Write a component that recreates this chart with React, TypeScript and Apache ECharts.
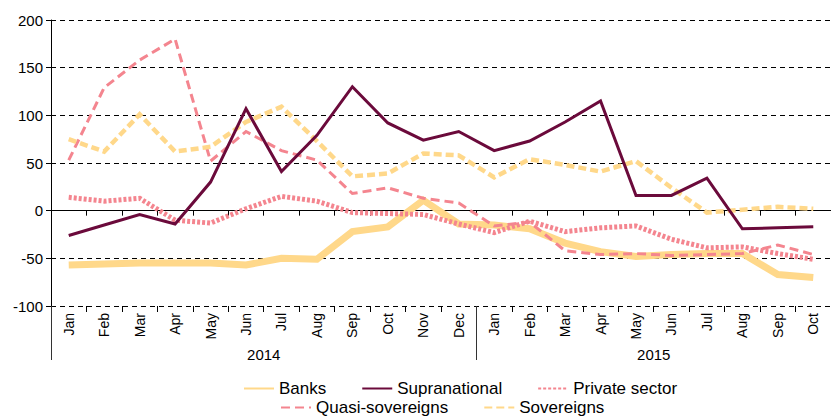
import React, { useEffect, useRef } from "react";
import * as echarts from "echarts";

const months = ["Jan","Feb","Mar","Apr","May","Jun","Jul","Aug","Sep","Oct","Nov","Dec","Jan","Feb","Mar","Apr","May","Jun","Jul","Aug","Sep","Oct"];
const years = ["2014", "2015"];
const yTicks = { min: -100, max: 200, interval: 50 };

const banks = [-57,-56,-55,-55,-55,-57,-50,-51,-22,-17,11,-14,-15,-19,-34,-43,-48,-46,-45,-45,-67,-70];
const supranational = [-26,-15,-4,-14,30,107,41,79,130,92,74,83,63,73,93,115,16,16,34,-19,-18,-17];
const privateSector = [14,10,13,-10,-13,2,15,10,-2,-3,-4,-14,-23,-11,-22,-18,-16,-30,-39,-38,-45,-51];
const quasiSovereigns = [53,129,158,180,52,83,63,53,18,24,13,8,-16,-12,-42,-46,-45,-47,-46,-45,-36,-46];
const sovereigns = [75,62,101,62,67,93,109,73,36,39,60,58,35,54,48,41,52,24,-2,1,4,2];

const FONT = "Liberation Sans, Arial, sans-serif";
const ORANGE = "#FFD88A";
const MAROON = "#6B0A3B";
const PINK = "#F4858F";

export default function App() {
  const ref = useRef<HTMLDivElement>(null);
  useEffect(() => {
    document.body.style.margin = "0";
    const chart = echarts.init(ref.current!, null, { renderer: "svg" });
    const mk = (name: string, data: number[], color: string, width: number, type: any, z: number) => ({
      name,
      type: "line",
      data,
      symbol: "none",
      z,
      lineStyle: { color, width, type, cap: "butt", join: "miter" },
      itemStyle: { color },
      xAxisIndex: 0,
      yAxisIndex: 0,
    });
    const legendBase = {
      itemWidth: 30,
      itemHeight: 8,
      itemGap: 35,
      padding: 0,
      itemStyle: { opacity: 0 },
      textStyle: { fontSize: 17, color: "#000", fontFamily: FONT },
    };
    chart.setOption({
      animation: false,
      textStyle: { fontFamily: FONT },
      grid: { left: 51, top: 20, width: 783, height: 286 },
      legend: [
        { ...legendBase, data: ["Banks", "Supranational", "Private sector"], left: 243, top: 380 },
        { ...legendBase, data: ["Quasi-sovereigns", "Sovereigns"], left: 280, top: 399 },
      ],
      xAxis: [
        {
          type: "category",
          data: months,
          position: "bottom",
          boundaryGap: true,
          axisLine: { show: false, onZero: false },
          axisTick: { show: true, length: 6, lineStyle: { color: "#000" } },
          axisLabel: { rotate: 90, fontSize: 14, color: "#000", margin: 7, fontFamily: FONT, interval: 0 },
          splitLine: { show: false },
        },
        {
          type: "category",
          data: months,
          position: "top",
          boundaryGap: true,
          axisLine: { show: true, onZero: true, onZeroAxisIndex: 0, lineStyle: { color: "#000", width: 1 } },
          axisTick: { show: true, inside: true, length: 5, lineStyle: { color: "#000" } },
          axisLabel: { show: false },
          splitLine: { show: false },
        },
        {
          type: "value",
          min: 0,
          max: months.length,
          interval: 1,
          position: "bottom",
          axisLine: { show: false, onZero: false },
          axisTick: { show: true, length: 54, customValues: [0, 12, months.length], lineStyle: { color: "#333" } },
          axisLabel: {
            show: true,
            customValues: [6, 17],
            formatter: (v: number) => (v < 12 ? years[0] : years[1]),
            fontSize: 15,
            color: "#000",
            margin: 41,
            fontFamily: FONT,
          },
          splitLine: { show: false },
        },
      ],
      yAxis: {
        type: "value",
        min: yTicks.min,
        max: yTicks.max,
        interval: yTicks.interval,
        axisLine: { show: true, onZero: false, lineStyle: { color: "#000" } },
        axisTick: { show: true, length: 5, lineStyle: { color: "#000" } },
        axisLabel: { fontSize: 15, color: "#000", margin: 8, fontFamily: FONT },
        splitLine: { show: true, lineStyle: { color: "#000", type: [5, 4], width: 1 } },
      },
      series: [
        mk("Banks", banks, ORANGE, 7, "solid", 2),
        mk("Supranational", supranational, MAROON, 3, "solid", 6),
        mk("Private sector", privateSector, PINK, 5, [3, 2], 3),
        mk("Quasi-sovereigns", quasiSovereigns, PINK, 3, [9, 5], 4),
        mk("Sovereigns", sovereigns, ORANGE, 4.5, [8, 4], 5),
      ],
    });
    return () => chart.dispose();
  }, []);
  return <div ref={ref} style={{ width: 831, height: 417 }} />;
}
